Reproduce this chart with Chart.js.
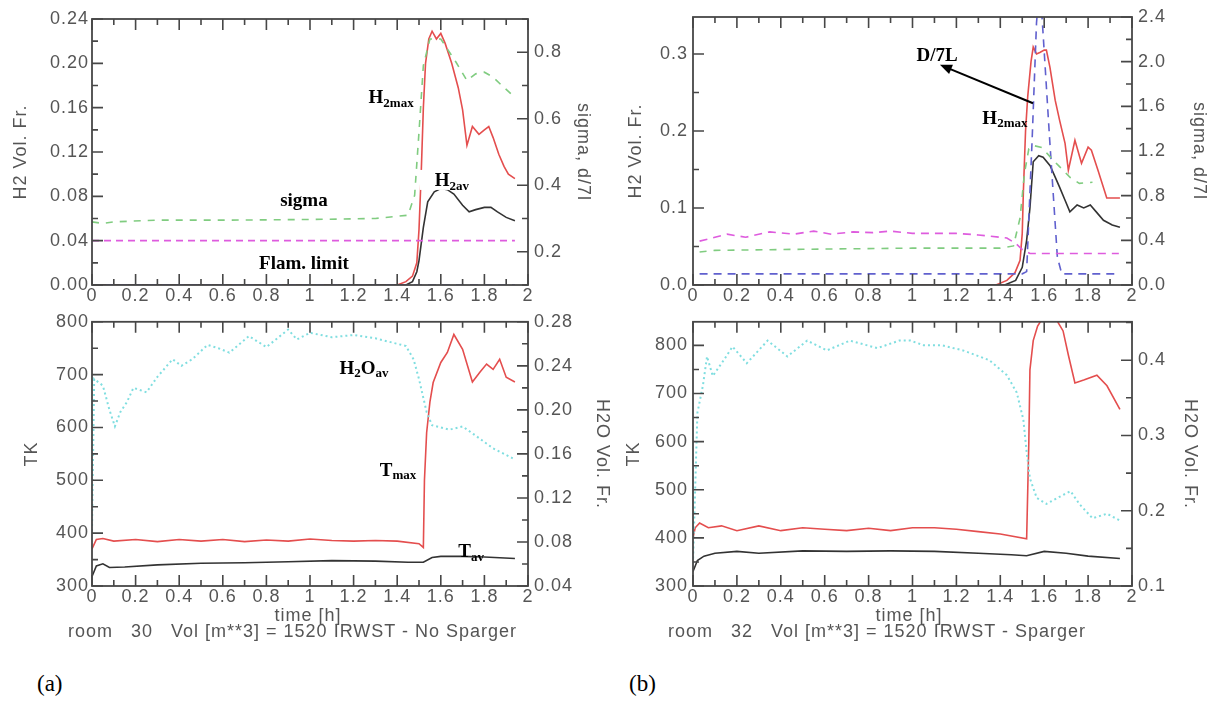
<!DOCTYPE html>
<html>
<head>
<meta charset="utf-8">
<script src="https://cdn.jsdelivr.net/npm/chart.js@4.4.0/dist/chart.umd.min.js"></script>
<style>
  html, body { margin: 0; padding: 0; background: #fff; }
  #fig { position: relative; width: 1210px; height: 703px; overflow: hidden; background: #fff; }
  #fig canvas { position: absolute; }
  .cap { position: absolute; font-family: "Liberation Sans", Arial, sans-serif; font-size: 18px;
         letter-spacing: 1px; color: #555; white-space: pre; line-height: 20px; }
  .ctr { text-align: center; width: 200px; }
  .tag { position: absolute; font-family: "Liberation Serif", "Times New Roman", serif; font-size: 23px;
         color: #000; line-height: 26px; }
</style>
</head>
<body>
<div id="fig">
  <canvas id="cA1" width="620" height="310" style="left:0;top:0"></canvas>
  <canvas id="cB1" width="610" height="310" style="left:600px;top:0"></canvas>
  <canvas id="cA2" width="620" height="310" style="left:0;top:305px"></canvas>
  <canvas id="cB2" width="610" height="310" style="left:600px;top:305px"></canvas>
  <div class="cap ctr" style="left:208px;top:605px">time [h]</div>
  <div class="cap" style="left:68px;top:621px">room   30   Vol [m**3] = 1520 IRWST - No Sparger</div>
  <div class="cap ctr" style="left:809px;top:605px">time [h]</div>
  <div class="cap" style="left:668px;top:621px">room   32   Vol [m**3] = 1520 IRWST - Sparger</div>
  <div class="tag" style="left:37px;top:671px">(a)</div>
  <div class="tag" style="left:629px;top:671px">(b)</div>
</div>
<script>
// ---------- axis tick values ----------
const timeTicks = [0, 0.2, 0.4, 0.6, 0.8, 1, 1.2, 1.4, 1.6, 1.8, 2];
const aTopLeftTicks = [0, 0.04, 0.08, 0.12, 0.16, 0.20, 0.24];
const aTopRightTicks = [0.2, 0.4, 0.6, 0.8];
const bTopLeftTicks = [0, 0.1, 0.2, 0.3];
const bTopRightTicks = [0, 0.4, 0.8, 1.2, 1.6, 2.0, 2.4];
const aBotLeftTicks = [300, 400, 500, 600, 700, 800];
const aBotRightTicks = [0.04, 0.08, 0.12, 0.16, 0.20, 0.24, 0.28];
const bBotLeftTicks = [300, 400, 500, 600, 700, 800];
const bBotRightTicks = [0.1, 0.2, 0.3, 0.4];

// ---------- room 30, no sparger: H2 and sigma ----------
const aH2maxT = [0, 1.40, 1.44, 1.47, 1.49, 1.50, 1.51, 1.52, 1.53, 1.545, 1.56, 1.58, 1.60, 1.62, 1.65, 1.68, 1.70, 1.72, 1.745, 1.775, 1.80, 1.82, 1.84, 1.866, 1.89, 1.91, 1.94];
const aH2max  = [0, 0, 0.003, 0.008, 0.02, 0.05, 0.10, 0.16, 0.20, 0.222, 0.229, 0.222, 0.227, 0.218, 0.20, 0.178, 0.158, 0.126, 0.143, 0.136, 0.14, 0.143, 0.133, 0.118, 0.107, 0.100, 0.096];
const aH2avT = [0, 1.44, 1.47, 1.49, 1.50, 1.52, 1.54, 1.57, 1.60, 1.63, 1.66, 1.70, 1.73, 1.76, 1.80, 1.83, 1.86, 1.90, 1.94];
const aH2av  = [0, 0, 0.003, 0.012, 0.022, 0.052, 0.075, 0.084, 0.087, 0.086, 0.082, 0.072, 0.066, 0.068, 0.07, 0.07, 0.066, 0.061, 0.058];
const aSigmaT = [0, 0.05, 0.1, 0.3, 0.6, 1.0, 1.3, 1.45, 1.48, 1.50, 1.52, 1.55, 1.60, 1.63, 1.67, 1.72, 1.76, 1.80, 1.84, 1.88, 1.93];
const aSigma  = [0.29, 0.285, 0.29, 0.295, 0.295, 0.297, 0.30, 0.31, 0.37, 0.56, 0.76, 0.84, 0.84, 0.81, 0.77, 0.715, 0.735, 0.74, 0.725, 0.70, 0.67];
const aFlamT = [0, 1.94];
const aFlam  = [0.04, 0.04];
const aD7lT = [0, 1.94];
const aD7l  = [0.1, 0.1];

// ---------- room 32, sparger: H2, sigma, D/7L ----------
const bH2maxT = [0, 1.38, 1.43, 1.467, 1.49, 1.50, 1.505, 1.515, 1.525, 1.54, 1.55, 1.565, 1.58, 1.60, 1.61, 1.626, 1.65, 1.67, 1.695, 1.71, 1.74, 1.77, 1.80, 1.815, 1.845, 1.885, 1.945];
const bH2max  = [0, 0, 0.006, 0.016, 0.032, 0.067, 0.12, 0.2, 0.245, 0.29, 0.309, 0.30, 0.302, 0.305, 0.305, 0.283, 0.24, 0.214, 0.184, 0.149, 0.188, 0.158, 0.179, 0.175, 0.149, 0.113, 0.113];
const bH2avT = [0, 1.42, 1.47, 1.50, 1.52, 1.535, 1.55, 1.575, 1.595, 1.627, 1.65, 1.67, 1.695, 1.717, 1.75, 1.78, 1.81, 1.84, 1.87, 1.91, 1.945];
const bH2av  = [0, 0, 0.006, 0.023, 0.058, 0.10, 0.16, 0.168, 0.166, 0.155, 0.14, 0.127, 0.11, 0.095, 0.104, 0.1, 0.104, 0.094, 0.084, 0.078, 0.075];
const bFlamT = [0.03, 0.1, 0.155, 0.24, 0.35, 0.46, 0.55, 0.63, 0.73, 0.82, 0.9, 1.0, 1.2, 1.3, 1.43, 1.47, 1.50, 1.535, 1.94];
const bFlam  = [0.057, 0.062, 0.066, 0.062, 0.069, 0.066, 0.070, 0.066, 0.069, 0.068, 0.070, 0.067, 0.067, 0.065, 0.061, 0.054, 0.046, 0.041, 0.041];
const bSigmaT = [0.03, 0.1, 0.5, 1.0, 1.4, 1.46, 1.49, 1.51, 1.53, 1.55, 1.59, 1.64, 1.67, 1.72, 1.76, 1.82];
const bSigma  = [0.295, 0.31, 0.32, 0.33, 0.33, 0.35, 0.6, 1.0, 1.22, 1.25, 1.23, 1.12, 1.06, 0.96, 0.91, 0.92];
const bD7lT = [0.03, 0.5, 1.0, 1.50, 1.52, 1.545, 1.565, 1.58, 1.595, 1.625, 1.66, 1.68, 1.94];
const bD7l  = [0.1, 0.1, 0.1, 0.1, 0.12, 1.3, 2.35, 2.7, 2.25, 1.3, 0.25, 0.1, 0.1];

// ---------- room 30: temperatures and steam ----------
const aTmaxT = [0, 0.02, 0.05, 0.1, 0.2, 0.3, 0.4, 0.5, 0.6, 0.7, 0.8, 0.9, 1.0, 1.1, 1.2, 1.3, 1.4, 1.5, 1.52, 1.525, 1.535, 1.55, 1.565, 1.6, 1.63, 1.66, 1.70, 1.745, 1.78, 1.81, 1.84, 1.87, 1.90, 1.94];
const aTmax  = [370, 388, 390, 385, 388, 384, 388, 385, 388, 384, 387, 385, 389, 386, 385, 386, 385, 380, 373, 500, 590, 648, 685, 723, 742, 776, 748, 686, 705, 720, 710, 729, 695, 686];
const aTavT = [0, 0.02, 0.05, 0.08, 0.15, 0.3, 0.5, 0.7, 0.9, 1.1, 1.3, 1.45, 1.52, 1.56, 1.6, 1.7, 1.8, 1.94];
const aTav  = [318, 338, 342, 335, 336, 340, 343, 344, 346, 348, 347, 345, 345, 354, 356, 356, 355, 352];
const aH2oT = [0, 0.01, 0.05, 0.08, 0.105, 0.13, 0.16, 0.19, 0.25, 0.3, 0.37, 0.41, 0.46, 0.53, 0.58, 0.63, 0.72, 0.8, 0.9, 0.94, 1.0, 1.1, 1.2, 1.3, 1.4, 1.44, 1.475, 1.5, 1.535, 1.56, 1.64, 1.7, 1.75, 1.84, 1.93];
const aH2o  = [0.09, 0.228, 0.222, 0.2, 0.185, 0.198, 0.207, 0.22, 0.216, 0.23, 0.246, 0.24, 0.246, 0.259, 0.256, 0.252, 0.267, 0.257, 0.273, 0.264, 0.27, 0.266, 0.268, 0.265, 0.26, 0.258, 0.246, 0.228, 0.198, 0.186, 0.182, 0.185, 0.178, 0.165, 0.156];

// ---------- room 32: temperatures and steam ----------
const bTmaxT = [0, 0.01, 0.03, 0.07, 0.13, 0.2, 0.3, 0.4, 0.5, 0.6, 0.7, 0.8, 0.9, 1.0, 1.1, 1.2, 1.3, 1.4, 1.52, 1.53, 1.535, 1.55, 1.57, 1.595, 1.63, 1.66, 1.686, 1.71, 1.74, 1.78, 1.84, 1.886, 1.945];
const bTmax  = [400, 421, 431, 421, 425, 415, 425, 415, 421, 418, 415, 420, 415, 421, 421, 418, 413, 408, 398, 600, 749, 810, 840, 858, 860, 850, 830, 780, 722, 728, 738, 716, 667];
const bTavT = [0, 0.02, 0.05, 0.1, 0.2, 0.3, 0.5, 0.7, 0.9, 1.1, 1.3, 1.45, 1.52, 1.6, 1.7, 1.8, 1.945];
const bTav  = [330, 353, 362, 368, 372, 368, 373, 372, 373, 372, 368, 365, 363, 372, 368, 362, 357];
const bH2oT = [0, 0.02, 0.045, 0.064, 0.09, 0.14, 0.18, 0.245, 0.34, 0.43, 0.52, 0.61, 0.715, 0.84, 0.94, 0.99, 1.05, 1.13, 1.23, 1.35, 1.43, 1.475, 1.505, 1.52, 1.535, 1.566, 1.61, 1.66, 1.72, 1.76, 1.82, 1.886, 1.945];
const bH2o  = [0.13, 0.33, 0.366, 0.405, 0.379, 0.40, 0.418, 0.396, 0.426, 0.405, 0.426, 0.413, 0.426, 0.416, 0.426, 0.426, 0.42, 0.42, 0.413, 0.40, 0.38, 0.357, 0.321, 0.278, 0.243, 0.217, 0.209, 0.217, 0.226, 0.209, 0.19, 0.196, 0.187];

// ---------- styling ----------
const SANS = '"Liberation Sans", Arial, sans-serif';
const SERIF = '"Liberation Serif", "Times New Roman", serif';
const INK = '#555';
const FRAME = '#474747';
const C = {
  red: 'rgb(228,78,78)', black: '#333', green: 'rgb(128,204,128)',
  magenta: 'rgb(222,92,222)', blue: 'rgb(96,96,206)', cyan: 'rgb(128,222,224)'
};

function pts(t, v) { return t.map((x, i) => ({ x, y: v[i] })); }
function line(t, v, color, axis, dash, width) {
  return { data: pts(t, v), yAxisID: axis, borderColor: color, borderWidth: width || 1.6,
           borderDash: dash || [], fill: false, pointRadius: 0, tension: 0 };
}

// Text labels written on the plots, anchored in data coordinates.
const notes = {
  cA1: [
    { x: 1.372, y: 0.170, parts: [['H'], ['2max', 1]] },
    { x: 1.651, y: 0.0948, parts: [['H'], ['2av', 1]], box: [15, 10] },
    { x: 0.972, y: 0.0767, parts: [['sigma']] },
    { x: 0.972, y: 0.0199, parts: [['Flam. limit']] }
  ],
  cB1: [
    { x: 1.112, y: 0.299, parts: [['D/7L']] },
    { x: 1.421, y: 0.218, parts: [['H'], ['2max', 1]] }
  ],
  cA2: [
    { x: 1.248, y: 714, parts: [['H'], ['2', 1], ['O'], ['av', 1]] },
    { x: 1.404, y: 521, parts: [['T'], ['max', 1]] },
    { x: 1.739, y: 367, parts: [['T'], ['av', 1]] }
  ],
  cB2: []
};
const arrows = {
  cB1: [{ from: [1.549, 0.236], to: [1.125, 0.286] }]
};

function drawRich(ctx, cx, cy, parts, box) {
  const big = 'bold 19px ' + SERIF, small = 'bold 13px ' + SERIF;
  let total = 0;
  const widths = parts.map(p => { ctx.font = p[1] ? small : big; const w = ctx.measureText(p[0]).width; total += w; return w; });
  let x = cx - total / 2;
  if (box) {
    ctx.fillStyle = '#fff';
    ctx.fillRect(x - box[0], cy - box[1], total + 2 * box[0], 2 * box[1]);
  }
  ctx.fillStyle = '#000';
  ctx.textBaseline = 'alphabetic';
  ctx.textAlign = 'left';
  parts.forEach((p, i) => {
    ctx.font = p[1] ? small : big;
    ctx.fillText(p[0], x, cy + 6.5 + (p[1] ? 3.5 : 0));
    x += widths[i];
  });
}

// Minor tick values: half-way between the labelled ticks, plus one step past each end.
function minorsOf(scale) {
  const v = scale.ticks.map(t => t.value);
  const out = [];
  for (let i = 0; i + 1 < v.length; i++) out.push((v[i] + v[i + 1]) / 2);
  if (v.length > 1) {
    const step = v[1] - v[0];
    if (v[0] - step / 2 >= scale.min - 1e-9) out.push(v[0] - step / 2);
    if (v[v.length - 1] + step / 2 <= scale.max + 1e-9) out.push(v[v.length - 1] + step / 2);
  }
  return out;
}

function drawFrame(chart) {
  const { ctx, chartArea: a, scales } = chart;
  const MAJ = 11, MIN = 6;
  ctx.save();
  ctx.setLineDash([]);
  ctx.strokeStyle = FRAME;
  ctx.lineWidth = 1.6;
  ctx.beginPath();
  const seg = (x1, y1, x2, y2) => { ctx.moveTo(x1, y1); ctx.lineTo(x2, y2); };
  const xs = scales.x, yl = scales.y, yr = scales.y2;
  xs.ticks.forEach(t => { const p = xs.getPixelForValue(t.value); seg(p, a.bottom, p, a.bottom - MAJ); seg(p, a.top, p, a.top + MAJ); });
  minorsOf(xs).forEach(v => { const p = xs.getPixelForValue(v); seg(p, a.bottom, p, a.bottom - MIN); seg(p, a.top, p, a.top + MIN); });
  yl.ticks.forEach(t => { const p = yl.getPixelForValue(t.value); seg(a.left, p, a.left + MAJ, p); });
  minorsOf(yl).forEach(v => { const p = yl.getPixelForValue(v); seg(a.left, p, a.left + MIN, p); });
  yr.ticks.forEach(t => { const p = yr.getPixelForValue(t.value); seg(a.right, p, a.right - MAJ, p); });
  minorsOf(yr).forEach(v => { const p = yr.getPixelForValue(v); seg(a.right, p, a.right - MIN, p); });
  ctx.stroke();
  ctx.lineWidth = 1.8;
  ctx.strokeRect(a.left, a.top, a.right - a.left, a.bottom - a.top);
  ctx.restore();
}

function drawNotes(chart) {
  const { ctx, scales } = chart;
  const id = chart.canvas.id;
  ctx.save();
  ctx.letterSpacing = '0px';
  ctx.setLineDash([]);
  (arrows[id] || []).forEach(a => {
    const x1 = scales.x.getPixelForValue(a.from[0]), y1 = scales.y.getPixelForValue(a.from[1]);
    const x2 = scales.x.getPixelForValue(a.to[0]), y2 = scales.y.getPixelForValue(a.to[1]);
    const ang = Math.atan2(y2 - y1, x2 - x1);
    ctx.strokeStyle = '#000'; ctx.fillStyle = '#000'; ctx.lineWidth = 2;
    ctx.beginPath(); ctx.moveTo(x1, y1);
    ctx.lineTo(x2 - 8 * Math.cos(ang), y2 - 8 * Math.sin(ang)); ctx.stroke();
    ctx.beginPath(); ctx.moveTo(x2, y2);
    ctx.lineTo(x2 - 12 * Math.cos(ang) + 5 * Math.sin(ang), y2 - 12 * Math.sin(ang) - 5 * Math.cos(ang));
    ctx.lineTo(x2 - 12 * Math.cos(ang) - 5 * Math.sin(ang), y2 - 12 * Math.sin(ang) + 5 * Math.cos(ang));
    ctx.closePath(); ctx.fill();
  });
  (notes[id] || []).forEach(n => {
    drawRich(ctx, scales.x.getPixelForValue(n.x), scales.y.getPixelForValue(n.y), n.parts, n.box);
  });
  ctx.restore();
}

const panelPlugin = {
  id: 'panelDecor',
  beforeUpdate(chart) { chart.ctx.letterSpacing = '1px'; },
  beforeDraw(chart) { chart.ctx.letterSpacing = '1px'; },
  afterDraw(chart) {
    drawFrame(chart);
    drawNotes(chart);
  }
};

const tickFont = { family: SANS, size: 18 };
function valueAxis(cfg) {
  return {
    type: 'linear', position: cfg.pos, min: cfg.min, max: cfg.max,
    afterFit: s => { s.width = cfg.width; },
    afterBuildTicks: s => { s.ticks = cfg.ticks.map(value => ({ value })); },
    grid: { display: false, drawTicks: false }, border: { display: false },
    ticks: { font: tickFont, color: INK, padding: cfg.pad, autoSkip: false,
             callback: v => cfg.fmt(v) },
    title: { display: true, text: cfg.title, color: INK, font: { family: SANS, size: 18 },
             padding: { top: cfg.titleOff, bottom: 0 } }
  };
}

function makeChart(id, o) {
  return new Chart(document.getElementById(id), {
    type: 'line',
    data: { datasets: o.datasets },
    options: {
      responsive: false, animation: false, devicePixelRatio: 1,
      layout: { padding: { top: o.top, left: 0, right: 0, bottom: 0 } },
      plugins: { legend: { display: false }, tooltip: { enabled: false } },
      scales: {
        x: {
          type: 'linear', position: 'bottom', min: 0, max: 2,
          afterFit: s => { s.height = o.xHeight; },
          afterBuildTicks: s => { s.ticks = timeTicks.map(value => ({ value })); },
          grid: { display: false, drawTicks: false }, border: { display: false },
          ticks: { font: tickFont, color: INK, padding: 0, autoSkip: false, maxRotation: 0,
                   callback: v => String(Math.round(v * 10) / 10) }
        },
        y: valueAxis(o.left),
        y2: valueAxis(o.right)
      }
    },
    plugins: [panelPlugin]
  });
}

// (a) room 30: hydrogen
makeChart('cA1', {
  top: 19, xHeight: 25,
  left: { pos: 'left', min: 0, max: 0.24, ticks: aTopLeftTicks, width: 92, pad: 3, fmt: v => v.toFixed(2), title: 'H2 Vol. Fr.', titleOff: 10 },
  right: { pos: 'right', min: 0.1, max: 0.9, ticks: aTopRightTicks, width: 92, pad: 6, fmt: v => v.toFixed(1), title: 'sigma, d/7l', titleOff: 26 },
  datasets: [
    line(aFlamT, aFlam, C.magenta, 'y', [7, 5]),
    line(aD7lT, aD7l, C.blue, 'y2', [8, 6]),
    line(aSigmaT, aSigma, C.green, 'y2', [7, 7]),
    line(aH2avT, aH2av, C.black, 'y'),
    line(aH2maxT, aH2max, C.red, 'y')
  ]
});

// (b) room 32: hydrogen
makeChart('cB1', {
  top: 17, xHeight: 25,
  left: { pos: 'left', min: 0, max: 0.348, ticks: bTopLeftTicks, width: 93, pad: 5, fmt: v => v.toFixed(1), title: 'H2 Vol. Fr.', titleOff: 25 },
  right: { pos: 'right', min: 0, max: 2.4, ticks: bTopRightTicks, width: 78, pad: 6, fmt: v => v.toFixed(1), title: 'sigma, d/7l', titleOff: 0 },
  datasets: [
    line(bFlamT, bFlam, C.magenta, 'y', [8, 6]),
    line(bSigmaT, bSigma, C.green, 'y2', [7, 7]),
    line(bD7lT, bD7l, C.blue, 'y2', [8, 6]),
    line(bH2avT, bH2av, C.black, 'y'),
    line(bH2maxT, bH2max, C.red, 'y')
  ]
});

// (a) room 30: temperature and steam
makeChart('cA2', {
  top: 14, xHeight: 29,
  left: { pos: 'left', min: 300, max: 800, ticks: aBotLeftTicks, width: 92, pad: 3, fmt: v => String(v), title: 'TK', titleOff: 21 },
  right: { pos: 'right', min: 0.04, max: 0.28, ticks: aBotRightTicks, width: 92, pad: 6, fmt: v => v.toFixed(2), title: 'H2O Vol. Fr.', titleOff: 7 },
  datasets: [
    line(aH2oT, aH2o, C.cyan, 'y2', [2, 3], 2),
    line(aTavT, aTav, C.black, 'y'),
    line(aTmaxT, aTmax, C.red, 'y')
  ]
});

// (b) room 32: temperature and steam
makeChart('cB2', {
  top: 13, xHeight: 29,
  left: { pos: 'left', min: 300, max: 849, ticks: bBotLeftTicks, width: 93, pad: 5, fmt: v => String(v), title: 'TK', titleOff: 23 },
  right: { pos: 'right', min: 0.1, max: 0.451, ticks: bBotRightTicks, width: 78, pad: 6, fmt: v => v.toFixed(1), title: 'H2O Vol. Fr.', titleOff: 9 },
  datasets: [
    line(bH2oT, bH2o, C.cyan, 'y2', [2, 3], 2),
    line(bTavT, bTav, C.black, 'y'),
    line(bTmaxT, bTmax, C.red, 'y')
  ]
});
</script>
</body>
</html>
